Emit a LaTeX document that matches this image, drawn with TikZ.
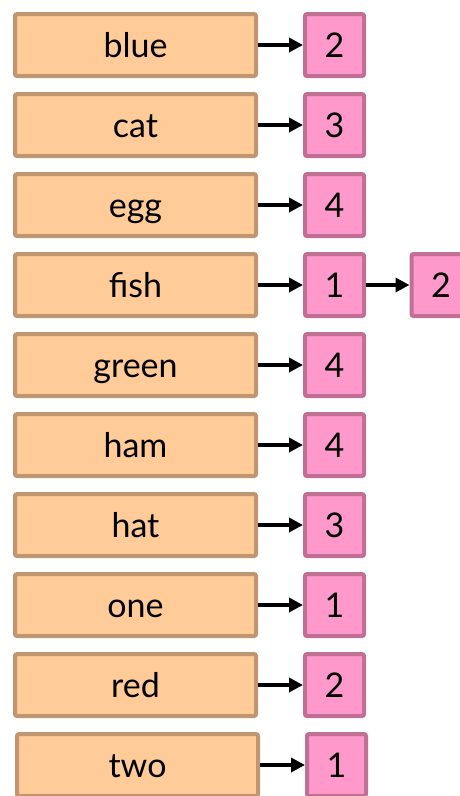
\documentclass[tikz,border=0pt]{standalone}
\usepackage{fontspec}
\setmainfont{Lato}
\usetikzlibrary{arrows.meta}
\definecolor{ofill}{HTML}{FFCC99}
\definecolor{odraw}{HTML}{C09570}
\definecolor{pfill}{HTML}{FF99CC}
\definecolor{pdraw}{HTML}{C07094}
\tikzset{
  wordbox/.style={draw=odraw, fill=ofill, line width=4pt, rounded corners=2pt,
    minimum width=241pt, minimum height=62pt, inner sep=0pt,
    text height=24pt, text depth=0pt,
    font=\fontsize{34}{34}\selectfont},
  cntbox/.style={draw=pdraw, fill=pfill, line width=4pt, rounded corners=2pt,
    minimum width=59pt, minimum height=62pt, inner sep=0pt,
    text height=24pt, text depth=0pt,
    font=\fontsize{34}{34}\selectfont},
  link/.style={line width=4pt, -{Triangle[length=14pt,width=14pt]}, black},
}
\begin{document}
\begin{tikzpicture}[x=1pt,y=-1pt]
\useasboundingbox (0,0) rectangle (460,796);
\foreach \w/\n/\i in {blue/2/0,cat/3/1,egg/4/2,fish/1/3,green/4/4,ham/4/5,hat/3/6,one/1/7,red/2/8}{
  \node[wordbox] (w\i) at (135.5,{45+80*\i}) {\w};
  \node[cntbox] (c\i) at (334.5,{45+80*\i}) {\n};
  \draw[link] (w\i) -- (c\i);
}
\node[wordbox] (w9) at (137.5,765) {two};
\node[cntbox] (c9) at (336.5,765) {1};
\draw[link] (w9) -- (c9);
\node[cntbox] (d3) at (441,285) {2};
\draw[link] (c3) -- (d3);
\end{tikzpicture}
\end{document}
